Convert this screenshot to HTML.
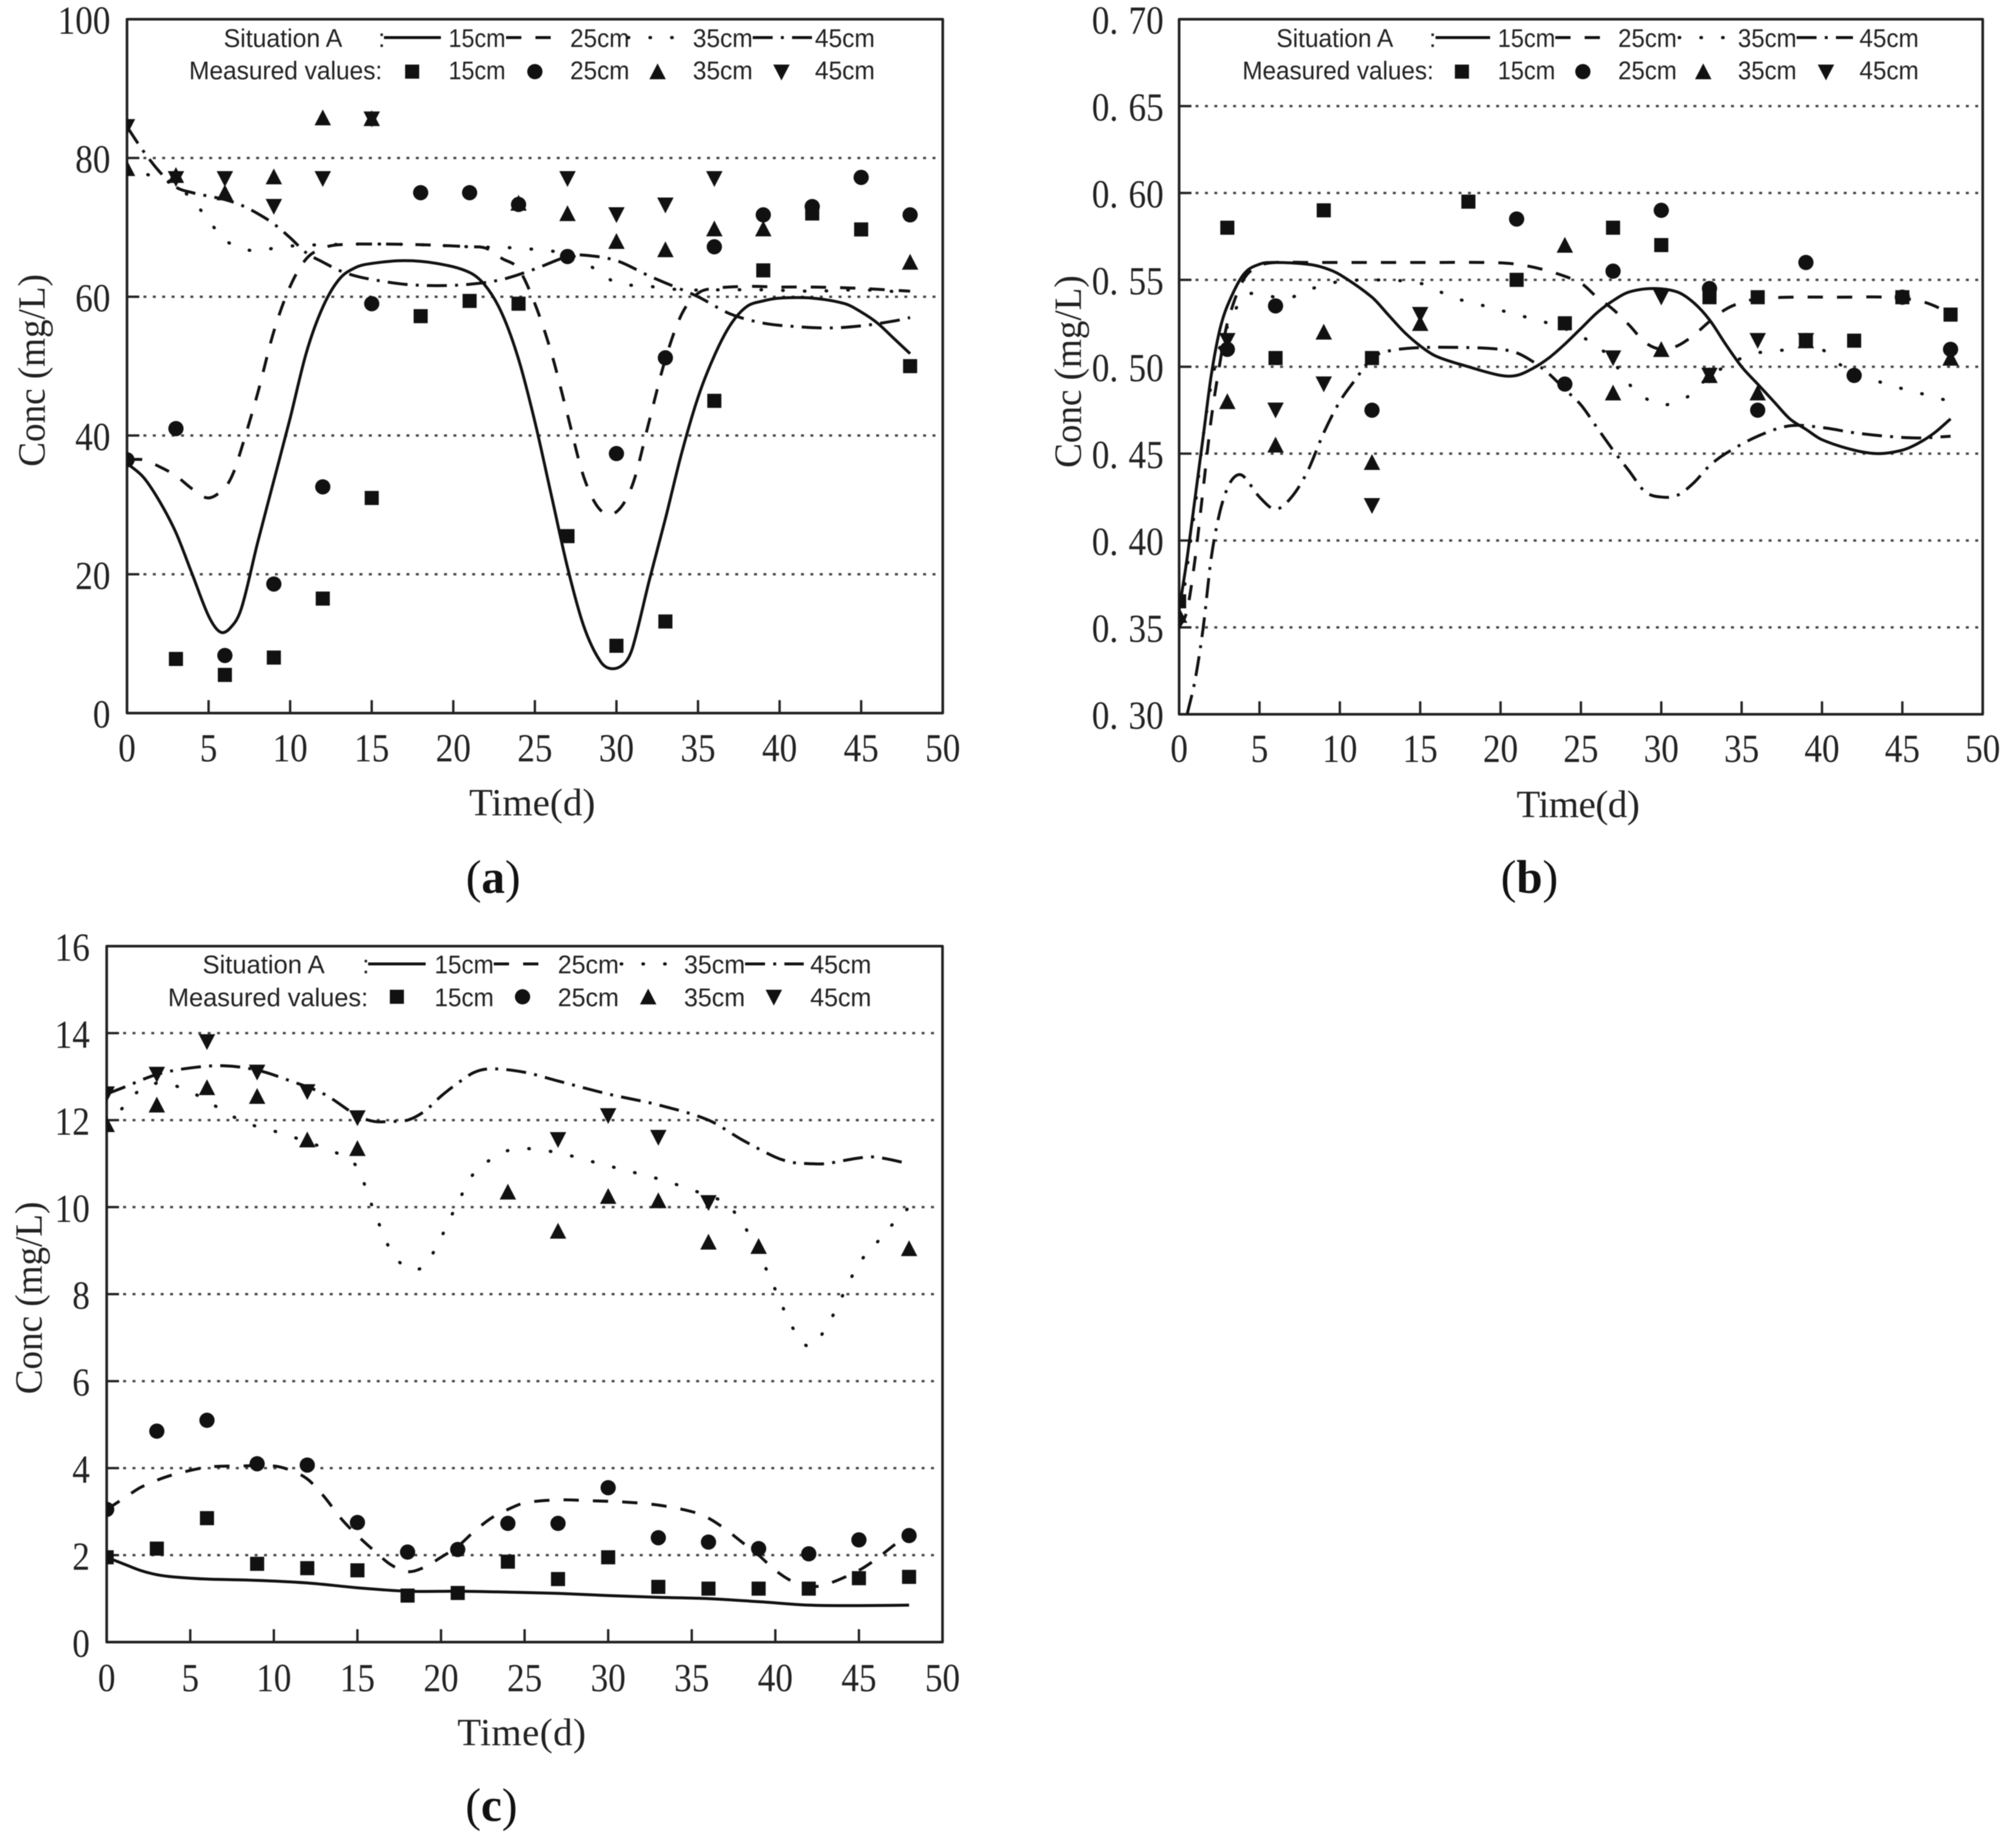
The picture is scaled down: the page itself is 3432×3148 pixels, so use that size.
<!DOCTYPE html>
<html lang="en">
<head>
<meta charset="utf-8">
<title>Concentration over time</title>
<style>
html,body{margin:0;padding:0;background:#fff;width:3432px;height:3148px;overflow:hidden}
svg{display:block;filter:blur(0.7px)}
.leg{font-family:"Liberation Sans",sans-serif;font-size:44px;fill:#222}
.axt{font-family:"Liberation Serif",serif;font-size:66px;fill:#222}
.cap{font-family:"Liberation Serif",serif;font-size:80px;fill:#111}
.tick{font-family:"Liberation Serif",serif;font-size:68px;fill:#222}
.frame{fill:none;stroke:#222;stroke-width:4.5;stroke-linejoin:round}
.s15{fill:none;stroke:#111;stroke-width:5}
.s25{fill:none;stroke:#111;stroke-width:5;stroke-dasharray:26 24}
.s35{fill:none;stroke:#111;stroke-width:5.5;stroke-dasharray:1 36;stroke-linecap:round}
.s45{fill:none;stroke:#111;stroke-width:5;stroke-dasharray:34 14 5 14}
</style>
</head>
<body>
<svg id="figure" width="3432" height="3148" viewBox="0 0 3432 3148" xmlns="http://www.w3.org/2000/svg">
<rect width="3432" height="3148" fill="#fff"/>
<defs>
<clipPath id="clip-a"><rect x="216.3" y="32.7" width="1389.4" height="1182"/></clipPath>
<clipPath id="clip-b"><rect x="2008.3" y="32.7" width="1368.7" height="1184"/></clipPath>
<clipPath id="clip-c"><rect x="181.7" y="1611.7" width="1423.6" height="1185.6"/></clipPath>
</defs>

<!-- Panel a -->
<g id="panel-a">
<g id="grid-a"></g>
<rect class="frame" x="216.3" y="32.7" width="1389.4" height="1182"/>
<g id="ticks-a"></g>
<text class="axt" transform="translate(76,795) rotate(-90)" textLength="328" lengthAdjust="spacingAndGlyphs">Conc (mg/L)</text>
<text class="axt" x="799" y="1389" textLength="215" lengthAdjust="spacing">Time(d)</text>
<g>
<text class="leg" x="381" y="80" textLength="202" lengthAdjust="spacingAndGlyphs">Situation A</text>
<text class="leg" x="644" y="80">:</text>
<line class="s15" x1="654" y1="64" x2="751" y2="64"/>
<text class="leg" x="764" y="80" textLength="97" lengthAdjust="spacingAndGlyphs">15cm</text>
<line class="s25" x1="862" y1="64" x2="960" y2="64"/>
<text class="leg" x="971" y="80" textLength="101" lengthAdjust="spacingAndGlyphs">25cm</text>
<line class="s35" x1="1070" y1="64" x2="1170" y2="64"/>
<text class="leg" x="1180" y="80" textLength="102" lengthAdjust="spacingAndGlyphs">35cm</text>
<line class="s45" x1="1282" y1="64" x2="1383" y2="64"/>
<text class="leg" x="1388" y="80" textLength="102" lengthAdjust="spacingAndGlyphs">45cm</text>
<text class="leg" x="322" y="135" textLength="329" lengthAdjust="spacingAndGlyphs">Measured values:</text>
<rect x="690" y="110" width="24" height="24" fill="#111"/>
<text class="leg" x="764" y="135" textLength="97" lengthAdjust="spacingAndGlyphs">15cm</text>
<circle cx="911" cy="122" r="13" fill="#111"/>
<text class="leg" x="971" y="135" textLength="101" lengthAdjust="spacingAndGlyphs">25cm</text>
<polygon points="1120,108 1134,135 1106,135" fill="#111"/>
<text class="leg" x="1180" y="135" textLength="102" lengthAdjust="spacingAndGlyphs">35cm</text>
<polygon points="1331,137 1345,110 1317,110" fill="#111"/>
<text class="leg" x="1388" y="135" textLength="102" lengthAdjust="spacingAndGlyphs">45cm</text>
</g>
<g id="marks-a" clip-path="url(#clip-a)"></g>
<text class="cap" x="840" y="1521" text-anchor="middle">(<tspan font-weight="bold">a</tspan>)</text>
</g>

<!-- Panel b -->
<g id="panel-b">
<g id="grid-b"></g>
<rect class="frame" x="2008.3" y="32.7" width="1368.7" height="1184"/>
<g id="ticks-b"></g>
<text class="axt" transform="translate(1841,797) rotate(-90)" textLength="328" lengthAdjust="spacingAndGlyphs">Conc (mg/L)</text>
<text class="axt" x="2583" y="1392" textLength="210" lengthAdjust="spacing">Time(d)</text>
<g>
<text class="leg" x="2174" y="80" textLength="199" lengthAdjust="spacingAndGlyphs">Situation A</text>
<text class="leg" x="2434" y="80">:</text>
<line class="s15" x1="2445" y1="64" x2="2538" y2="64"/>
<text class="leg" x="2551" y="80" textLength="98" lengthAdjust="spacingAndGlyphs">15cm</text>
<line class="s25" x1="2649" y1="64" x2="2742" y2="64"/>
<text class="leg" x="2756" y="80" textLength="100" lengthAdjust="spacingAndGlyphs">25cm</text>
<line class="s35" x1="2860" y1="64" x2="2949" y2="64"/>
<text class="leg" x="2960" y="80" textLength="100" lengthAdjust="spacingAndGlyphs">35cm</text>
<line class="s45" x1="3060" y1="64" x2="3156" y2="64"/>
<text class="leg" x="3167" y="80" textLength="101" lengthAdjust="spacingAndGlyphs">45cm</text>
<text class="leg" x="2116" y="135" textLength="326" lengthAdjust="spacingAndGlyphs">Measured values:</text>
<rect x="2478" y="110" width="24" height="24" fill="#111"/>
<text class="leg" x="2551" y="135" textLength="98" lengthAdjust="spacingAndGlyphs">15cm</text>
<circle cx="2696" cy="122" r="13" fill="#111"/>
<text class="leg" x="2756" y="135" textLength="100" lengthAdjust="spacingAndGlyphs">25cm</text>
<polygon points="2901,108 2915,135 2887,135" fill="#111"/>
<text class="leg" x="2960" y="135" textLength="100" lengthAdjust="spacingAndGlyphs">35cm</text>
<polygon points="3110,137 3124,110 3096,110" fill="#111"/>
<text class="leg" x="3167" y="135" textLength="101" lengthAdjust="spacingAndGlyphs">45cm</text>
</g>
<g id="marks-b" clip-path="url(#clip-b)"></g>
<text class="cap" x="2605" y="1521" text-anchor="middle">(<tspan font-weight="bold">b</tspan>)</text>
</g>

<!-- Panel c -->
<g id="panel-c">
<g id="grid-c"></g>
<rect class="frame" x="181.7" y="1611.7" width="1423.6" height="1185.6"/>
<g id="ticks-c"></g>
<text class="axt" transform="translate(71,2375) rotate(-90)" textLength="328" lengthAdjust="spacingAndGlyphs">Conc (mg/L)</text>
<text class="axt" x="779" y="2973" textLength="219" lengthAdjust="spacing">Time(d)</text>
<g>
<text class="leg" x="345" y="1658" textLength="208" lengthAdjust="spacingAndGlyphs">Situation A</text>
<text class="leg" x="617" y="1658">:</text>
<line class="s15" x1="627" y1="1642" x2="725" y2="1642"/>
<text class="leg" x="740" y="1658" textLength="101" lengthAdjust="spacingAndGlyphs">15cm</text>
<line class="s25" x1="841" y1="1642" x2="935" y2="1642"/>
<text class="leg" x="950" y="1658" textLength="104" lengthAdjust="spacingAndGlyphs">25cm</text>
<line class="s35" x1="1058" y1="1642" x2="1150" y2="1642"/>
<text class="leg" x="1165" y="1658" textLength="104" lengthAdjust="spacingAndGlyphs">35cm</text>
<line class="s45" x1="1269" y1="1642" x2="1369" y2="1642"/>
<text class="leg" x="1380" y="1658" textLength="104" lengthAdjust="spacingAndGlyphs">45cm</text>
<text class="leg" x="286" y="1714" textLength="341" lengthAdjust="spacingAndGlyphs">Measured values:</text>
<rect x="664" y="1686" width="24" height="24" fill="#111"/>
<text class="leg" x="740" y="1714" textLength="101" lengthAdjust="spacingAndGlyphs">15cm</text>
<circle cx="890" cy="1698" r="13" fill="#111"/>
<text class="leg" x="950" y="1714" textLength="104" lengthAdjust="spacingAndGlyphs">25cm</text>
<polygon points="1104,1684 1118,1711 1090,1711" fill="#111"/>
<text class="leg" x="1165" y="1714" textLength="104" lengthAdjust="spacingAndGlyphs">35cm</text>
<polygon points="1318,1713 1332,1686 1304,1686" fill="#111"/>
<text class="leg" x="1380" y="1714" textLength="104" lengthAdjust="spacingAndGlyphs">45cm</text>
</g>
<g id="marks-c" clip-path="url(#clip-c)"></g>
<text class="cap" x="837" y="3102" text-anchor="middle">(<tspan font-weight="bold">c</tspan>)</text>
</g>
</svg>

<script>
// Shared axis data
const measuredDays = [0,3,6,9,12,15,18,21,24,27,30,33,36,39,42,45,48];
const xTickValues = [0,5,10,15,20,25,30,35,40,45,50];
const yTicksA = [0,20,40,60,80,100];
const yTickLabelsA = ["0","20","40","60","80","100"];
const yTicksB = [0.30,0.35,0.40,0.45,0.50,0.55,0.60,0.65,0.70];
const yTickLabelsB = ["0.30","0.35","0.40","0.45","0.50","0.55","0.60","0.65","0.70"];
const yTicksC = [0,2,4,6,8,10,12,14,16];
const yTickLabelsC = ["0","2","4","6","8","10","12","14","16"];

// Panel a measured values (null = hidden / not measured)
const aMeasured15 = [null,7.8,5.5,8,16.5,31,57.2,59.4,59,25.5,9.7,13.2,45,63.8,72,69.7,50];
const aMeasured25 = [36.5,41,8.3,18.6,32.6,59,75,75,73.3,65.8,37.4,51.2,67.2,71.8,73,77.2,71.8];
const aMeasured35 = [78.5,77.5,75,77.3,85.8,85.7,null,null,73.5,72,68,66.8,69.8,69.8,null,null,65];
const aMeasured45 = [84.5,77,77,73,77,85.6,null,null,null,77,71.8,73.2,77,null,null,null,null];

// Panel a simulated curves [day, conc]
const aLine15 = [[0,36],[1,34],[2,30.5],[3,26],[4,20],[5,14],[5.7,11.7],[6.3,12.2],[7,15],[8,24.5],[9,33.5],[10,42.5],[11,52],[12,58.5],[13,62.5],[14,64.2],[15,64.8],[17,65.2],[19,64.8],[21,63.5],[22,61.5],[23,57.5],[24,51],[25,42],[26,31.5],[27,21],[28,12.5],[29,7.5],[29.7,6.4],[30.5,7.2],[31,9.5],[32,19],[33,28],[34,37.5],[35,45.5],[36,51.5],[37,56],[38,58.6],[39,59.4],[40,59.8],[42,59.8],[44,59],[45,57.8],[46,56.2],[47,54],[48,51.8]];
const aLine25 = [[0,36.5],[1,36.5],[2,35.5],[3,34.2],[4,32.3],[5,31],[6,32.5],[6.5,34.5],[7,38],[8,46],[9,55],[10,61.5],[11,65.5],[12,67],[13,67.5],[15,67.6],[18,67.5],[21,67.2],[22,67],[23,65.5],[24,64],[25,59],[26,52],[27,43],[28,34],[29,29.3],[30,29],[31,33],[32,42],[33,51],[34,57.5],[35,60.5],[36,61.2],[38,61.5],[40,61.4],[42,61.4],[45,61.2],[48,60.8]];
const aLine35 = [[0,78.5],[1,77.8],[2,77],[3,76],[4,74],[5,71],[6,68.2],[7,67],[8,66.6],[9,67],[10,67.3],[12,67.5],[15,67.6],[18,67.5],[21,67.2],[24,67],[27,66.2],[28,65],[29,63.5],[30,62],[32,61.5],[34,61],[36,61],[39,61],[42,60.8],[45,61],[48,60.6]];
const aLine45 = [[0,84.5],[1,81],[2,78],[3,75.8],[4,75],[5,74.5],[6,74],[7,73.2],[8,72],[9,70.5],[10,68.5],[11,66.3],[12,65],[13,63.8],[14,63],[15,62.5],[17,61.8],[19,61.6],[21,61.8],[23,62.5],[25,64],[27,65.8],[28,66],[30,65.2],[32,63],[33,62],[35,60],[37,57.5],[39,56.2],[41,55.7],[43,55.5],[45,55.8],[47,56.5],[48,57]];

// Panel b measured values
const bMeasured15 = [0.365,0.58,0.505,0.59,0.505,null,0.595,0.55,0.525,0.58,0.57,0.54,0.54,0.515,0.515,0.54,0.53];
const bMeasured25 = [null,0.51,0.535,null,0.475,null,null,0.585,0.49,0.555,0.59,0.545,0.475,0.56,0.495,0.54,0.51];
const bMeasured35 = [0.357,0.48,0.455,0.52,0.445,0.525,null,null,0.57,0.485,0.51,0.495,0.485,0.515,null,null,0.505];
const bMeasured45 = [null,0.515,0.475,0.49,0.42,0.53,null,null,null,0.505,0.54,0.495,0.515,0.515,null,null,null];

// Panel b simulated curves
const bLine15 = [[0,0.36],[0.5,0.39],[1,0.425],[1.5,0.46],[2,0.495],[2.5,0.52],[3,0.535],[4,0.553],[5,0.559],[6,0.56],[8,0.559],[9,0.557],[10,0.553],[12,0.54],[13,0.53],[14,0.52],[15,0.512],[16,0.506],[18,0.5],[20,0.495],[21,0.495],[22,0.499],[23,0.505],[24,0.513],[25,0.522],[26,0.531],[27,0.538],[28,0.543],[29.5,0.545],[31,0.543],[32,0.537],[33,0.527],[34,0.513],[35,0.5],[36,0.49],[37,0.48],[38,0.47],[39,0.464],[40,0.458],[42,0.452],[43.5,0.45],[45,0.452],[46,0.456],[47,0.462],[48,0.47]];
const bLine25 = [[0,0.35],[0.5,0.36],[1,0.39],[1.5,0.43],[2,0.47],[2.5,0.5],[3,0.525],[4,0.55],[5,0.558],[6,0.56],[8,0.56],[10,0.56],[13,0.56],[16,0.56],[19,0.56],[21,0.559],[23,0.555],[25,0.548],[26,0.54],[27,0.533],[28,0.524],[29,0.514],[30,0.51],[31,0.512],[32,0.518],[33,0.526],[34,0.533],[35,0.537],[36,0.539],[38,0.54],[41,0.54],[44,0.54],[46,0.538],[47,0.535],[48,0.53]];
const bLine35 = [[0,0.35],[1,0.42],[1.5,0.46],[2,0.49],[2.5,0.51],[3,0.523],[4,0.54],[5,0.542],[6,0.54],[7,0.54],[8,0.544],[9,0.547],[10,0.549],[12,0.55],[15,0.548],[17,0.54],[19,0.535],[21,0.53],[23,0.525],[24,0.522],[26,0.512],[27,0.503],[28,0.49],[29,0.482],[30,0.478],[31,0.48],[32,0.485],[33,0.495],[34,0.5],[35,0.505],[36,0.508],[38,0.51],[39,0.512],[40,0.51],[41,0.502],[42,0.497],[44,0.49],[46,0.485],[48,0.48]];
const bLine45 = [[0.5,0.30],[1,0.32],[1.5,0.35],[2,0.39],[2.5,0.415],[3,0.43],[3.5,0.437],[4,0.437],[5,0.425],[6,0.418],[7,0.425],[8,0.44],[9,0.462],[10,0.48],[11,0.493],[12,0.505],[13,0.509],[15,0.511],[18,0.511],[20,0.51],[21,0.508],[22,0.503],[23,0.496],[24,0.487],[25,0.478],[26,0.465],[27,0.452],[28,0.44],[29,0.428],[30,0.425],[31,0.426],[32,0.433],[33,0.443],[34,0.45],[36,0.46],[38,0.466],[40,0.465],[42,0.462],[44,0.46],[46,0.459],[48,0.46]];

// Panel c measured values
const cMeasured15 = [1.95,2.15,2.85,1.8,1.7,1.65,1.07,1.13,1.85,1.45,1.95,1.27,1.23,1.23,1.23,1.47,1.5];
const cMeasured25 = [3.05,4.85,5.1,4.1,4.07,2.75,2.07,2.13,2.73,2.73,3.55,2.4,2.3,2.15,2.03,2.35,2.45];
const cMeasured35 = [11.9,12.35,12.75,12.55,11.55,11.35,null,null,10.35,9.45,10.25,10.15,9.2,9.1,null,null,9.05];
const cMeasured45 = [12.6,13.05,13.8,13.1,12.65,12.05,null,null,null,11.55,12.1,11.6,10.1,null,null,null,null];

// Panel c simulated curves
const cLine15 = [[0,1.95],[1,1.8],[2,1.65],[3,1.55],[4,1.5],[6,1.45],[9,1.42],[12,1.36],[15,1.25],[18,1.17],[21,1.17],[24,1.15],[27,1.12],[30,1.07],[33,1.03],[36,1],[39,0.93],[42,0.85],[45,0.84],[48,0.85]];
const cLine25 = [[0,3.05],[1,3.3],[2,3.55],[3,3.72],[4,3.85],[6,4.02],[8,4.05],[10,4.05],[11,3.95],[12,3.75],[13,3.35],[14,2.85],[15,2.45],[16,2.1],[17,1.78],[18,1.62],[19,1.72],[20,1.95],[21,2.2],[22,2.55],[23,2.85],[24,3.05],[25,3.2],[27,3.27],[29,3.25],[31,3.22],[33,3.15],[35,3],[36,2.85],[37,2.6],[38,2.3],[39,2],[40,1.65],[41,1.4],[42,1.28],[43,1.32],[45,1.65],[46,1.9],[47,2.2],[48,2.5]];
const cLine35 = [[0,11.9],[1,12.3],[2,12.7],[3,12.85],[4,12.8],[5,12.65],[6,12.45],[7,12.2],[8,12],[9,11.85],[10,11.75],[12,11.5],[14,11.2],[15,10.9],[16,9.9],[17,9],[18,8.6],[19,8.65],[20,9.3],[21,10.1],[22,10.8],[23,11.1],[24,11.3],[25,11.35],[27,11.25],[29,11.05],[31,10.85],[33,10.65],[35,10.4],[36,10.25],[37,10.1],[38,9.65],[39,8.95],[40,8.1],[41,7.25],[42,6.8],[43,7.2],[44,7.95],[45,8.7],[46,9.15],[47,9.6],[48,10]];
const cLine45 = [[0,12.6],[1,12.75],[3,13.05],[5,13.2],[7,13.25],[9,13.15],[11,12.9],[13,12.6],[15,12.1],[16,11.97],[17,11.97],[18,12],[19,12.2],[20,12.55],[21,12.85],[22,13.1],[23,13.18],[25,13.1],[27,12.9],[30,12.6],[33,12.35],[36,12],[38,11.55],[40,11.15],[41,11.03],[42,11],[43,11],[45,11.13],[46,11.15],[48,11]];

const SVGNS = 'http://www.w3.org/2000/svg';

function make(tag, parent, cls) {
  const el = document.createElementNS(SVGNS, tag);
  if (cls) el.setAttribute('class', cls);
  parent.appendChild(el);
  return el;
}

// Cubic Hermite through points with x-aware tangents, so uneven day spacing does not kink.
function smoothPath(pts) {
  const n = pts.length;
  const slope = i => {
    const a = pts[Math.max(i - 1, 0)];
    const b = pts[Math.min(i + 1, n - 1)];
    return (b[1] - a[1]) / (b[0] - a[0]);
  };
  let d = 'M' + pts[0][0].toFixed(1) + ' ' + pts[0][1].toFixed(1);
  for (let i = 0; i < n - 1; i++) {
    const p1 = pts[i];
    const p2 = pts[i + 1];
    const h = (p2[0] - p1[0]) / 3;
    const c1x = p1[0] + h;
    const c1y = p1[1] + slope(i) * h;
    const c2x = p2[0] - h;
    const c2y = p2[1] - slope(i + 1) * h;
    d += 'C' + c1x.toFixed(1) + ' ' + c1y.toFixed(1) + ' ' + c2x.toFixed(1) + ' ' + c2y.toFixed(1) + ' ' + p2[0].toFixed(1) + ' ' + p2[1].toFixed(1);
  }
  return d;
}

function drawPanel(id, box, yMin, yMax, yTicks, yLabels, yLabelRight, xLabelBase, lines, measured) {
  const xScale = v => box.left + (v / 50) * (box.right - box.left);
  const yScale = v => box.bottom - ((v - yMin) / (yMax - yMin)) * (box.bottom - box.top);
  const grid = document.getElementById('grid-' + id);
  const ticks = document.getElementById('ticks-' + id);
  const marks = document.getElementById('marks-' + id);

  yTicks.forEach((t, i) => {
    const y = yScale(t);
    if (i !== 0 && i !== yTicks.length - 1) {
      const g = make('line', grid);
      
      
      g.setAttribute('x1', box.left + 28);
      g.setAttribute('x2', box.right - 6);
      g.setAttribute('y1', y);
      g.setAttribute('y2', y);
      g.setAttribute('stroke', '#444');
      g.setAttribute('stroke-width', '4');
      g.setAttribute('stroke-dasharray', '5 11');
      const tk = make('line', ticks);
      
      
      tk.setAttribute('x1', box.left);
      tk.setAttribute('x2', box.left + 21);
      tk.setAttribute('y1', y);
      tk.setAttribute('y2', y);
      tk.setAttribute('stroke', '#222');
      tk.setAttribute('stroke-width', '4');
    }
    const lab = make('text', ticks, 'tick');
    
    
    lab.setAttribute('text-anchor', 'end');
    lab.setAttribute('transform', 'translate(' + yLabelRight + ',' + (y + 25) + ') scale(0.88,1)');
    const txt = yLabels[i];
    if (txt.indexOf('.') >= 0) {
      const parts = txt.split('.');
      const a = make('tspan', lab);
      a.textContent = parts[0] + '.';
      const b = make('tspan', lab);
      b.setAttribute('dx', '20');
      b.textContent = parts[1];
    } else {
      lab.textContent = txt;
    }
  });

  xTickValues.forEach(t => {
    const x = xScale(t);
    if (t !== 0 && t !== 50) {
      const tk = make('line', ticks);
      
      
      tk.setAttribute('x1', x);
      tk.setAttribute('x2', x);
      tk.setAttribute('y1', box.bottom);
      tk.setAttribute('y2', box.bottom - 22);
      tk.setAttribute('stroke', '#222');
      tk.setAttribute('stroke-width', '4');
    }
    const lab = make('text', ticks, 'tick');
    
    
    lab.setAttribute('text-anchor', 'middle');
    lab.setAttribute('transform', 'translate(' + x + ',' + xLabelBase + ') scale(0.88,1)');
    lab.textContent = String(t);
  });

  lines.forEach((series, i) => {
    const p = make('path', marks, ['s15', 's25', 's35', 's45'][i]);
    
    
    p.setAttribute('d', smoothPath(series.map(d => [xScale(d[0]), yScale(d[1])])));
  });

  measured.forEach((vals, kind) => {
    vals.forEach((v, i) => {
      if (v === null) return;
      const x = xScale(measuredDays[i]);
      const y = yScale(v);
      let m;
      if (kind === 0) {
        m = make('rect', marks);
        m.setAttribute('x', x - 12);
        m.setAttribute('y', y - 12);
        m.setAttribute('width', 24);
        m.setAttribute('height', 24);
        
      } else if (kind === 1) {
        m = make('circle', marks);
        m.setAttribute('cx', x);
        m.setAttribute('cy', y);
        m.setAttribute('r', 13);
        
      } else if (kind === 2) {
        m = make('polygon', marks);
        m.setAttribute('points', x + ',' + (y - 14) + ' ' + (x + 14) + ',' + (y + 13) + ' ' + (x - 14) + ',' + (y + 13));
        
      } else {
        m = make('polygon', marks);
        m.setAttribute('points', x + ',' + (y + 14) + ' ' + (x + 14) + ',' + (y - 13) + ' ' + (x - 14) + ',' + (y - 13));
        
      }
      
      m.setAttribute('fill', '#111');
    });
  });
}

drawPanel('a', {left:216.3,right:1605.7,top:32.7,bottom:1214.7}, 0, 100, yTicksA, yTickLabelsA, 188, 1297,
  [aLine15, aLine25, aLine35, aLine45], [aMeasured15, aMeasured25, aMeasured35, aMeasured45]);
drawPanel('b', {left:2008.3,right:3377,top:32.7,bottom:1216.7}, 0.3, 0.7, yTicksB, yTickLabelsB, 1982, 1298,
  [bLine15, bLine25, bLine35, bLine45], [bMeasured15, bMeasured25, bMeasured35, bMeasured45]);
drawPanel('c', {left:181.7,right:1605.3,top:1611.7,bottom:2797.3}, 0, 16, yTicksC, yTickLabelsC, 153, 2881,
  [cLine15, cLine25, cLine35, cLine45], [cMeasured15, cMeasured25, cMeasured35, cMeasured45]);
</script>
</body>
</html>
